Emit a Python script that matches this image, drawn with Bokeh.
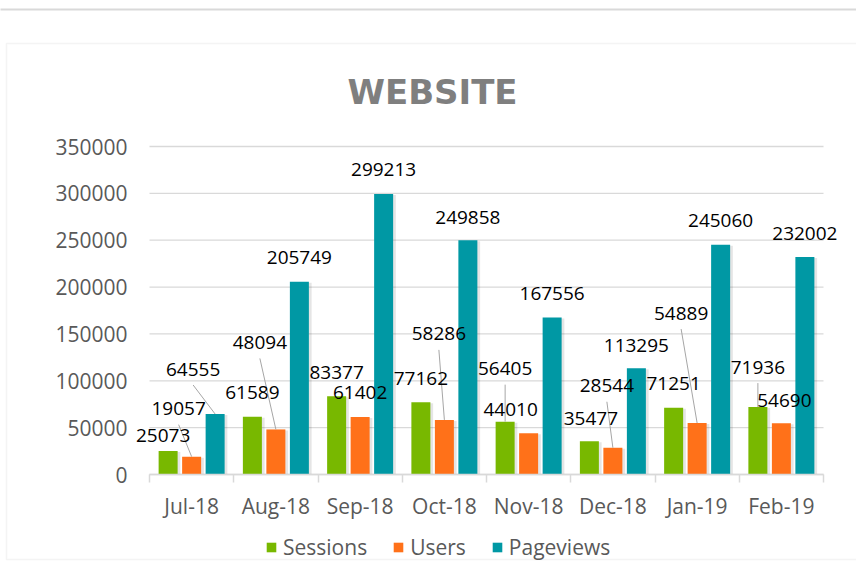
import numpy as np
from bokeh.plotting import figure
from bokeh.models import (ColumnDataSource, Range1d, FixedTicker, LabelSet, Label,
                          BoxAnnotation, BasicTickFormatter)
from bokeh.core.properties import value
from bokeh.embed import file_html
from bokeh.resources import INLINE

# ---------------- data ----------------
months = ["Jul-18", "Aug-18", "Sep-18", "Oct-18", "Nov-18", "Dec-18", "Jan-19", "Feb-19"]
sessions = [25073, 61589, 83377, 77162, 56405, 35477, 71251, 71936]
users = [19057, 48094, 61402, 58286, 44010, 28544, 54889, 54690]
pageviews = [64555, 205749, 299213, 249858, 167556, 113295, 245060, 232002]
y_ticks = [0, 50000, 100000, 150000, 200000, 250000, 300000, 350000]
series_names = ["Sessions", "Users", "Pageviews"]

# ---------------- style ----------------
W, H = 856, 561
PL, PR, PT, PB = 149, 823, 146, 474          # plot-area edges (px)
Y_MAX = 350000
N = len(months)
PX_X = (PR - PL) / N                          # px per category
PX_Y = (PB - PT) / Y_MAX                      # px per unit value
BAR_W = 19 / PX_X
BAR_OFF = 23.5 / PX_X
colors = ["#78B800", "#FF7119", "#0098A4"]
GRID = "#D9D9D9"
TXT = "#595959"
FONT = "Open Sans"

# data-label placement offsets in px (dx right, dy up from bar top) and leader flags
label_dx = [[-5, 0, 0, 0, 0, 1.5, 0, 0],
            [-13, -16, 0, -5.5, -18, -6, -16, 3],
            [-22, 0, 0, 0, 0, 0, 0, 0]]
label_dy = [[15.5, 24, 24, 24, 53, 23, 24, 40],
            [48, 87, 24, 86, 24, 62, 110, 23],
            [45, 24, 25, 23, 24, 23, 24, 24]]
leader = [[0, 0, 0, 0, 1, 0, 0, 1],
          [1, 1, 0, 1, 0, 1, 1, 0],
          [1, 0, 0, 0, 0, 0, 0, 0]]

# the frame covers the whole canvas; axes sit at fixed data locations
x_range = Range1d(-PL / PX_X, N + (W - PR) / PX_X)
y_range = Range1d(-(H - PB) / PX_Y, Y_MAX + PT / PX_Y)

p = figure(width=W, height=H, output_backend="svg", toolbar_location=None,
           x_range=x_range, y_range=y_range,
           min_border_left=0, min_border_right=0, min_border_top=0, min_border_bottom=0)
p.outline_line_color = None
p.background_fill_color = "white"
p.border_fill_color = "white"
p.xgrid.grid_line_color = None
p.ygrid.grid_line_color = None

# chart frame decorations (screen units, y measured from the bottom)
p.add_layout(BoxAnnotation(left=6, right=W + 10, top=H - 43, bottom=H - 559,
                           left_units="screen", right_units="screen",
                           top_units="screen", bottom_units="screen",
                           fill_alpha=0, line_color=GRID, line_width=1.5, level="underlay"))
p.add_layout(BoxAnnotation(left=-5, right=W + 5, top=H - 8, bottom=H - 10,
                           left_units="screen", right_units="screen",
                           top_units="screen", bottom_units="screen",
                           fill_color=GRID, fill_alpha=1, line_color=None, level="underlay"))

# horizontal gridlines over the plot area only
gsrc = ColumnDataSource(dict(x0=[0] * len(y_ticks), x1=[N] * len(y_ticks), y=y_ticks))
p.segment(x0="x0", y0="y", x1="x1", y1="y", source=gsrc, line_color=GRID, line_width=1.3)

centers = np.arange(N) + 0.5
values = [sessions, users, pageviews]
offsets = [-BAR_OFF, 0.0, BAR_OFF]

# soft shadows
for vals, off in zip(values, offsets):
    src = ColumnDataSource(dict(x=centers + off + 2.0 / PX_X, top=np.array(vals) - 1.0 / PX_Y))
    p.vbar(x="x", top="top", width=BAR_W + 1.5 / PX_X, bottom=0, source=src,
           fill_color="black", fill_alpha=0.10, line_color=None)

lx_all, ly_all, lt_all = [], [], []
seg = dict(x0=[], y0=[], x1=[], y1=[])
for k, (vals, off, name, col) in enumerate(zip(values, offsets, series_names, colors)):
    xs = centers + off
    src = ColumnDataSource(dict(x=xs, top=vals))
    p.vbar(x="x", top="top", width=BAR_W, bottom=0, source=src,
           fill_color=col, line_color=None, legend_label=name)
    for i, v in enumerate(vals):
        lx = xs[i] + label_dx[k][i] / PX_X
        ly = v + label_dy[k][i] / PX_Y
        lx_all.append(lx); ly_all.append(ly); lt_all.append(str(v))
        if leader[k][i]:
            seg["x0"].append(lx); seg["y0"].append(ly - 16 / PX_Y)
            seg["x1"].append(xs[i]); seg["y1"].append(v)

p.segment(x0="x0", y0="y0", x1="x1", y1="y1", source=ColumnDataSource(seg),
          line_color="#A6A6A6", line_width=1)

lab_src = ColumnDataSource(dict(x=lx_all, y=ly_all, t=lt_all))
p.add_layout(LabelSet(x="x", y="y", text="t", source=lab_src, text_align="center",
                      text_baseline="middle", text_font=value(FONT),
                      text_font_size=value("19px"), text_color="black"))

# axes
xa = p.xaxis[0]
xa.fixed_location = 0
xa.bounds = (0, N)
xa.ticker = FixedTicker(ticks=list(centers), minor_ticks=list(range(N + 1)))
xa.major_label_overrides = {float(c): m for c, m in zip(centers, months)}
xa.major_tick_line_color = None
xa.major_tick_out = 0
xa.major_tick_in = 0
xa.minor_tick_line_color = GRID
xa.minor_tick_line_width = 1.5
xa.minor_tick_out = 8
xa.minor_tick_in = 0
xa.axis_line_color = GRID
xa.axis_line_width = 1.5
xa.major_label_text_font = FONT
xa.major_label_text_font_size = "21px"
xa.major_label_text_color = TXT
xa.major_label_standoff = 9

ya = p.yaxis[0]
ya.fixed_location = 0
ya.bounds = (0, Y_MAX)
ya.ticker = FixedTicker(ticks=y_ticks)
ya.formatter = BasicTickFormatter(use_scientific=False)
ya.axis_line_color = None
ya.major_tick_line_color = None
ya.minor_tick_line_color = None
ya.major_tick_out = 0
ya.major_tick_in = 0
ya.minor_tick_out = 0
ya.minor_tick_in = 0
ya.major_label_text_font = FONT
ya.major_label_text_font_size = "21px"
ya.major_label_text_color = TXT
ya.major_label_standoff = 22

# legend
lg = p.legend[0]
lg.orientation = "horizontal"
lg.location = (265, 0)
lg.border_line_color = None
lg.background_fill_alpha = 0
lg.padding = 0
lg.margin = 0
lg.spacing = 25
lg.glyph_width = 12
lg.glyph_height = 12
lg.label_standoff = 6
lg.label_text_font = FONT
lg.label_text_font_size = "21px"
lg.label_text_color = TXT

# title
p.add_layout(Label(x=432, y=H - 91, x_units="screen", y_units="screen",
                   text="WEBSITE", text_align="center", text_baseline="middle",
                   text_font="DejaVu Sans", text_font_style="bold",
                   text_font_size="34px", text_color="#7F7F7F"))

open("out.html", "w").write(file_html(p, INLINE))
